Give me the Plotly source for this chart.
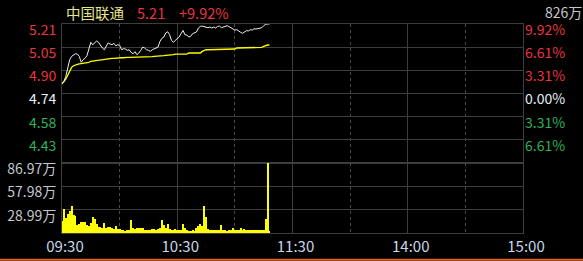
import plotly.graph_objects as go
from plotly.subplots import make_subplots

# ---------------- data ----------------
stock_name = "中国联通"
last_price = 5.21
last_change = "+9.92%"
prev_close = 4.74
total_volume_label = "826万"

minutes = list(range(109))  # minute index from 09:30

price = [4.804, 4.822, 4.856, 4.924, 4.969, 4.991, 5.003, 5.009, 5.007, 4.991,
         4.951, 4.969, 4.978, 4.996, 5.041, 5.086, 5.070, 5.082, 5.095, 5.086,
         5.066, 5.048, 5.036, 5.063, 5.082, 5.075, 5.070, 5.079, 5.063, 5.070,
         5.066, 5.036, 5.043, 5.041, 5.032, 5.036, 5.018, 5.009, 5.023, 5.003,
         5.014, 5.032, 5.054, 5.048, 5.036, 5.032, 5.025, 5.036, 5.041, 5.048,
         5.054, 5.093, 5.113, 5.122, 5.149, 5.158, 5.138, 5.100, 5.086, 5.100,
         5.109, 5.122, 5.145, 5.167, 5.138, 5.136, 5.122, 5.127, 5.145, 5.149,
         5.156, 5.183, 5.194, 5.196, 5.192, 5.190, 5.185, 5.190, 5.183, 5.190,
         5.183, 5.194, 5.196, 5.185, 5.190, 5.199, 5.199, 5.192, 5.185, 5.176,
         5.169, 5.172, 5.160, 5.154, 5.147, 5.158, 5.165, 5.163, 5.172, 5.169,
         5.178, 5.176, 5.178, 5.183, 5.185, 5.199, 5.208, 5.210, 5.210]

avg_price = [4.809, 4.820, 4.838, 4.861, 4.894, 4.917, 4.928, 4.935, 4.937, 4.940,
             4.942, 4.944, 4.946, 4.949, 4.951, 4.958, 4.960, 4.962, 4.964, 4.967,
             4.969, 4.971, 4.973, 4.973, 4.976, 4.976, 4.978, 4.978, 4.980, 4.980,
             4.980, 4.982, 4.982, 4.985, 4.985, 4.985, 4.985, 4.985, 4.985, 4.985,
             4.985, 4.987, 4.987, 4.987, 4.989, 4.989, 4.989, 4.989, 4.991, 4.991,
             4.991, 4.994, 4.996, 4.996, 4.998, 4.998, 5.000, 5.003, 5.003,
             5.007, 5.007, 5.007, 5.007, 5.007, 5.007, 5.007,
             5.014, 5.014, 5.014, 5.014, 5.014, 5.014, 5.014,
             5.025, 5.032,
             5.036, 5.036, 5.036, 5.036, 5.039,
             5.041, 5.041, 5.041, 5.041, 5.041, 5.041, 5.041, 5.041, 5.041, 5.041, 5.041,
             5.048, 5.048, 5.048, 5.048, 5.048, 5.048, 5.048, 5.048, 5.048, 5.048, 5.048, 5.048, 5.048,
             5.052, 5.059, 5.066, 5.068, 5.068]

volume = [14.7, 29.4, 18.8, 23.3, 26.9, 33.0, 22.8, 21.2, 9.8, 11.8,
          13.1, 13.9, 13.1, 9.8, 9.0, 12.2, 19.6, 17.1, 11.8, 7.3,
          7.3, 5.7, 12.2, 6.5, 7.8, 6.9, 5.7, 4.9, 8.6, 5.3,
          4.9, 3.7, 3.3, 2.4, 4.1, 3.3, 16.3, 6.5, 4.9, 6.5,
          6.1, 5.7, 6.5, 4.1, 4.1, 4.1, 4.1, 5.3, 4.5, 4.1,
          4.9, 6.5, 16.3, 9.8, 5.7, 10.6,
          4.9, 4.1, 4.1, 4.9, 4.1, 4.1, 4.1, 11.0, 6.5, 4.1,
          2.9, 2.9, 3.7, 2.9, 5.7, 8.2, 11.0, 9.0, 33.0, 20.0,
          4.9, 4.1, 4.1, 3.3, 4.1, 3.3, 3.3, 9.8, 3.3, 4.1, 2.9, 3.3,
          4.1, 5.7, 4.1, 3.3, 4.1, 5.7, 3.3, 4.9, 4.1, 3.3,
          4.1, 3.3, 4.1, 3.3, 3.3, 3.3, 3.3, 3.3, 17.1, 86.97, 2.4]

pct_levels = [0.0992, 0.0661, 0.0331, 0.0, -0.0331, -0.0661]
price_labels = ["5.21", "5.05", "4.90", "4.74", "4.58", "4.43"]
pct_labels = ["9.92%", "6.61%", "3.31%", "0.00%", "3.31%", "6.61%"]
vol_ticks = [28.99, 57.98, 86.97]
vol_labels = ["28.99万", "57.98万", "86.97万"]
time_ticks = [0, 60, 120, 180, 240]
time_labels = ["09:30", "10:30", "11:30", "14:00", "15:00"]
minor_ticks = [30, 90, 150, 210]

# ---------------- style ----------------
RED = "#e8353f"
GREEN = "#2db35a"
WHITE = "#e6eef6"
GRAY_TXT = "#c4c8cc"
TIME_TXT = "#c8d8e8"
GRID = "#3e3e3e"
FONT = "Noto Sans CJK SC, Noto Sans, sans-serif"
L, R, T, B = 62, 60, 24, 28
PW, PH = 583 - L - R, 261 - T - B


def level_color(p):
    if p > 0:
        return RED
    if p < 0:
        return GREEN
    return WHITE


price_ticks = [prev_close * (1 + p) for p in pct_levels]
p_lo = prev_close * (1 - 0.0992)
p_hi = prev_close * (1 + 0.0992)

left_text = [f'<span style="color:{level_color(p)}">{t}</span>' for p, t in zip(pct_levels, price_labels)]
right_text = [f'<span style="color:{level_color(p)}">{t}</span>' for p, t in zip(pct_levels, pct_labels)]

fig = make_subplots(rows=2, cols=1, shared_xaxes=True, vertical_spacing=0,
                    row_heights=[139 / 209, 70 / 209],
                    specs=[[{"secondary_y": True}], [{}]])

fig.add_trace(go.Scatter(x=minutes, y=avg_price, mode="lines",
                         line=dict(color="#ffff00", width=1.3), hoverinfo="skip"),
              row=1, col=1, secondary_y=False)
fig.add_trace(go.Scatter(x=minutes, y=price, mode="lines",
                         line=dict(color="#f0f0f0", width=1), hoverinfo="skip"),
              row=1, col=1, secondary_y=True)
fig.add_trace(go.Bar(x=minutes, y=volume, width=0.55,
                     marker=dict(color="#ffff00", line=dict(width=0)), hoverinfo="skip"),
              row=2, col=1)

xcommon = dict(range=[0, 240], domain=[0, 1], tickvals=time_ticks, showgrid=True, gridcolor=GRID, gridwidth=1,
               showline=True, mirror=True, linecolor=GRID, linewidth=1, zeroline=False,
               ticks="", fixedrange=True, automargin=False,
               minor=dict(tickvals=minor_ticks, showgrid=True, gridcolor="#4a4a4a", griddash="dot", gridwidth=1))
fig.update_xaxes(**xcommon)
fig.update_xaxes(showticklabels=False, row=1, col=1)
fig.update_xaxes(showticklabels=True, ticktext=time_labels, ticklabelshift=3,
                 tickfont=dict(color=TIME_TXT, size=15, family=FONT), row=2, col=1)

fig.update_layout(
    yaxis=dict(range=[p_lo, p_hi], tickvals=price_ticks, ticktext=left_text,
               showgrid=True, gridcolor=GRID, zeroline=False, showline=True, mirror=True,
               linecolor=GRID, ticks="", ticklabelshift=6, ticklabelstandoff=2, automargin=False,
               tickfont=dict(size=14, family=FONT)),
    yaxis2=dict(range=[p_lo, p_hi], tickvals=price_ticks, ticktext=right_text, side="right",
                overlaying="y", anchor="x",
                showgrid=False, zeroline=False, ticks="", ticklabelshift=6, ticklabelstandoff=1,
                automargin=False, tickfont=dict(size=14, family=FONT)),
    yaxis3=dict(range=[0, vol_ticks[-1]], tickvals=vol_ticks, ticktext=vol_labels,
                showgrid=True, gridcolor=GRID, zeroline=False, showline=True, mirror=True,
                linecolor=GRID, ticks="", ticklabelshift=6, ticklabelstandoff=2, automargin=False,
                tickfont=dict(size=14, family=FONT, color=GRAY_TXT)),
)


def px_x(px):
    return (px - L) / PW


def px_y(py):
    return (261 - B - py) / PH


title_parts = [(stock_name, 64, "#e6e68c"), (f"{last_price:.2f}", 135, RED), (last_change, 177, RED)]
for text, xpx, col in title_parts:
    fig.add_annotation(text=text, xref="paper", yref="paper", x=px_x(xpx), y=px_y(12.5),
                       xanchor="left", yanchor="middle", showarrow=False,
                       font=dict(size=14.5, family=FONT, color=col))
fig.add_annotation(text=total_volume_label, xref="paper", yref="paper", x=px_x(584),
                   y=px_y(12.5), xanchor="right", yanchor="middle", showarrow=False,
                   font=dict(size=14, family=FONT, color=GRAY_TXT))

fig.add_shape(type="line", xref="paper", yref="paper", x0=px_x(0), x1=px_x(583),
              y0=px_y(259.7), y1=px_y(259.7),
              line=dict(color="#e0601c", width=2))

fig.update_layout(
    width=583, height=261,
    margin=dict(l=L, r=R, t=T, b=B, pad=0, autoexpand=False),
    paper_bgcolor="#000000", plot_bgcolor="#000000",
    showlegend=False, bargap=0,
    font=dict(family=FONT, size=15),
)

fig.write_html("out.html", config={"displayModeBar": False})
